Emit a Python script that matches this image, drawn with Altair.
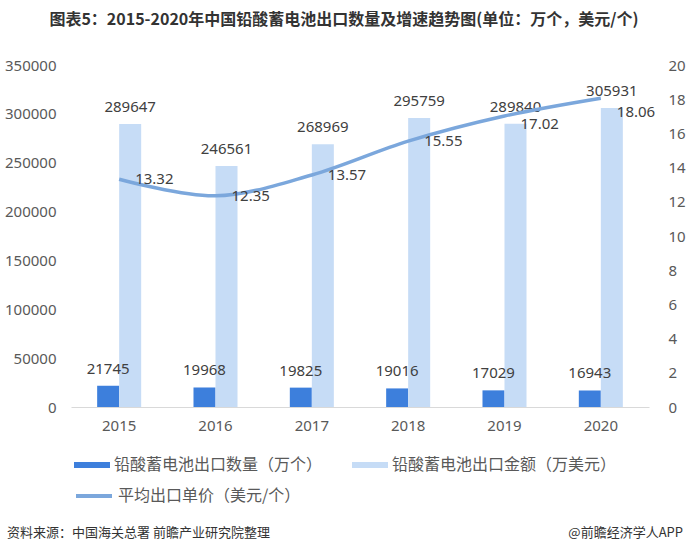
import altair as alt
import pandas as pd

title_text = "图表5：2015-2020年中国铅酸蓄电池出口数量及增速趋势图(单位：万个，美元/个)"
source_text = "资料来源：中国海关总署 前瞻产业研究院整理"
brand_text = "@前瞻经济学人APP"

years = ["2015", "2016", "2017", "2018", "2019", "2020"]
quantity = [21745, 19968, 19825, 19016, 17029, 16943]
amount = [289647, 246561, 268969, 295759, 289840, 305931]
price = [13.32, 12.35, 13.57, 15.55, 17.02, 18.06]

qty_name = "铅酸蓄电池出口数量（万个）"
amt_name = "铅酸蓄电池出口金额（万美元）"
price_name = "平均出口单价（美元/个）"

left_ticks = [0, 50000, 100000, 150000, 200000, 250000, 300000, 350000]
right_ticks = [0, 2, 4, 6, 8, 10, 12, 14, 16, 18, 20]

DARK = "#3d7fdc"
LIGHT = "#c6dcf6"
LINE = "#7ba7dc"
CJK = "Noto Sans CJK SC"
NUM = "Noto Sans"

bar_df = pd.DataFrame({
    "year": years * 2,
    "series": [qty_name] * len(years) + [amt_name] * len(years),
    "value": quantity + amount,
})
line_df = pd.DataFrame({"year": years, "series": [price_name] * len(years), "price": price})

x_enc = alt.X(
    "year:N", sort=years,
    scale=alt.Scale(paddingInner=0.543, paddingOuter=0.2715),
    axis=alt.Axis(title=None, labelAngle=0, ticks=False, domainColor="#d9d9d9",
                  domainWidth=1, labelPadding=11, labelFontSize=15, labelFont=NUM,
                  labelColor="#595959", grid=False),
)
xoff = alt.XOffset("series:N", scale=alt.Scale(domain=[qty_name, amt_name]))
left_scale = alt.Scale(domain=[0, 350000])
right_scale = alt.Scale(domain=[0, 20])
left_axis = alt.Axis(title=None, values=left_ticks, format="d", ticks=False,
                     domain=False, grid=False, labelPadding=15, labelFontSize=15,
                     labelFont=NUM, labelColor="#595959")
right_axis = alt.Axis(title=None, orient="right", values=right_ticks, ticks=False,
                      domain=False, grid=False, labelPadding=19, labelFontSize=15,
                      labelFont=NUM, labelColor="#595959")

bars = alt.Chart(bar_df).mark_bar().encode(
    x=x_enc,
    xOffset=xoff,
    y=alt.Y("value:Q", scale=left_scale, axis=left_axis),
    color=alt.Color("series:N",
                    scale=alt.Scale(domain=[qty_name, amt_name], range=[DARK, LIGHT]),
                    legend=alt.Legend(title=None, orient="none", legendX=3, legendY=382,
                                      direction="horizontal", symbolType="M-1,-0.17H1V0.17H-1Z",
                                      symbolSize=1296, symbolStrokeWidth=0, labelFontSize=16,
                                      labelFont=CJK, labelColor="#595959", columnPadding=29,
                                      labelOffset=4, padding=0, labelLimit=400)),
)
bar_labels = alt.Chart(bar_df).mark_text(
    dy=-17, baseline="middle", fontSize=15, font=NUM, color="#404040"
).encode(
    x=x_enc, xOffset=xoff,
    y=alt.Y("value:Q", scale=left_scale, axis=left_axis),
    text=alt.Text("value:Q", format="d"),
)
left_layer = alt.layer(bars, bar_labels)

line = alt.Chart(line_df).mark_line(interpolate="cardinal", strokeWidth=3.5).encode(
    x=x_enc,
    y=alt.Y("price:Q", scale=right_scale, axis=right_axis),
    stroke=alt.Stroke("series:N", scale=alt.Scale(domain=[price_name], range=[LINE]),
                      legend=alt.Legend(title=None, orient="none", legendX=3, legendY=411,
                                        symbolType="M-1,0H1", symbolSize=1296,
                                        symbolStrokeWidth=4, labelFontSize=16, labelFont=CJK,
                                        labelColor="#595959", labelOffset=4, padding=0,
                                        labelLimit=400)),
)


def price_labels(sel, dy):
    return alt.Chart(line_df).transform_filter(
        alt.FieldOneOfPredicate(field="year", oneOf=sel)
    ).mark_text(align="left", baseline="middle", dx=16, dy=dy, fontSize=15, font=NUM,
                color="#404040").encode(
        x=x_enc,
        y=alt.Y("price:Q", scale=right_scale, axis=right_axis),
        text=alt.Text("price:Q", format=".2f"),
    )


right_layer = alt.layer(
    line,
    price_labels(years[:4], 0),
    price_labels([years[4]], 8),
    price_labels([years[5]], 14),
)

src = alt.Chart(pd.DataFrame({"t": [source_text]})).mark_text(
    align="left", baseline="middle", fontSize=13, font=CJK, color="#333333"
).encode(text="t:N", x=alt.value(-64), y=alt.value(468))
brand = alt.Chart(pd.DataFrame({"t": [brand_text]})).mark_text(
    align="right", baseline="middle", fontSize=13, font=CJK, color="#333333"
).encode(text="t:N", x=alt.value(612), y=alt.value(468))

chart = alt.layer(left_layer, right_layer, src, brand).resolve_scale(
    y="independent"
).properties(
    width=578, height=342,
    title=alt.TitleParams(text=title_text, font=CJK, fontSize=16, fontWeight="bold",
                          color="#333333", anchor="middle", dx=-16, offset=30),
    autosize=alt.AutoSizeParams(type="none"),
    padding={"left": 71, "top": 65, "right": 39, "bottom": 147},
    background="white",
).configure_view(stroke=None)

chart.save("out.html", embed_options={"renderer": "svg", "actions": False})
